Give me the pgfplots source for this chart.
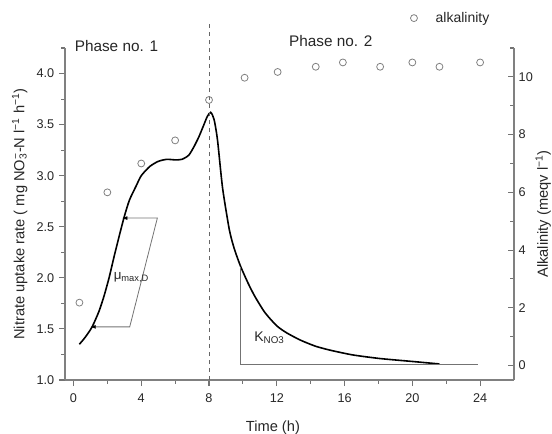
\documentclass[border=0pt]{standalone}
\usepackage{fontspec}
\setmainfont{Liberation Sans}
\usepackage{pgfplots}
\pgfplotsset{compat=1.18}
\usetikzlibrary{arrows.meta}
\begin{document}
\begin{tikzpicture}
\pgfplotsset{
  common/.style={
    width=336.75pt, height=249pt, scale only axis,
    xmin=-0.5, xmax=26,
    axis line style={line width=1pt, color=black!50},
    every tick/.style={black!55, line width=0.8pt},
    major tick length=4.5pt, minor tick length=2.8pt,
    tick label style={font=\fontsize{9.5}{10}\selectfont, color=black!85},
    label style={font=\fontsize{11}{13}\selectfont, color=black!85},
    /pgf/number format/assume math mode=true,
  }
}
\begin{axis}[common,
  axis x line*=bottom, axis y line*=left,
  ymin=1, ymax=4.25,
  ytick={1,1.5,2,2.5,3,3.5,4},
  minor ytick={1.25,1.75,2.25,2.75,3.25,3.75,4.25},
  yticklabel style={/pgf/number format/.cd, fixed, fixed zerofill, precision=1},
  xtick={0,4,8,12,16,20,24},
  minor xtick={2,6,10,14,18,22},
  xticklabel style={yshift=-2pt},
  tick align=outside,
  clip=false,
  xlabel={Time (h)},
  xlabel style={at={(ticklabel cs:0.463)}, yshift=-7pt},
  ylabel={Nitrate uptake rate ( mg NO\rlap{\textsubscript{3}}\textsuperscript{−}-N l\textsuperscript{−1} h\textsuperscript{−1})},
]
\addplot[black, line width=1.2pt, smooth, tension=0.4] coordinates {
(0.35,1.35) (0.7,1.42) (1.1,1.52) (1.5,1.67) (1.8,1.82) (2.1,2.0) (2.4,2.21)
(2.7,2.41) (3.0,2.6) (3.3,2.76) (3.7,2.9) (4.0,3.0) (4.5,3.09) (5.0,3.14)
(5.5,3.16) (6.0,3.155) (6.4,3.16) (6.8,3.2) (7.1,3.28) (7.4,3.38) (7.7,3.5)
(7.9,3.58) (8.1,3.62) (8.3,3.55) (8.5,3.35) (8.8,2.88) (9.2,2.47) (9.5,2.28)
(9.87,2.11) (10.3,1.95) (10.7,1.82) (11.3,1.66) (12.0,1.53) (12.6,1.46)
(13.4,1.39) (14.3,1.33) (15.2,1.29) (16.5,1.245) (18.1,1.21) (20.1,1.18) (21.6,1.157)
};
\draw[dashed, black!60, line width=0.6pt] (axis cs:8,1) -- (axis cs:8,4.5);
\draw[black!55, line width=0.7pt] (axis cs:9.87,2.11) -- (axis cs:9.87,1.15) -- (axis cs:23.9,1.15);
\draw[black!55, line width=0.6pt, {Latex[length=4pt,width=3pt,black]}-{Latex[length=4pt,width=3pt,black]}]
  (axis cs:2.87,2.585) -- (axis cs:4.95,2.585) -- (axis cs:3.32,1.52) -- (axis cs:1.0,1.52);
\node[anchor=west, font=\fontsize{11.5}{13}\selectfont, text=black!85] at (axis cs:-0.2,4.27) {Phase no. 1};
\node[anchor=west, font=\fontsize{11.5}{13}\selectfont, text=black!85] at (axis cs:12.45,4.32) {Phase no. 2};
\node[anchor=west, font=\fontsize{10}{12}\selectfont, text=black!85] at (axis cs:2.1,2.0) {μ\textsubscript{max,D}};
\node[anchor=west, font=\fontsize{10.5}{12}\selectfont, text=black!85] at (axis cs:10.4,1.41) {K\textsubscript{NO3}};
\end{axis}
\begin{axis}[common,
  axis x line=none, axis y line*=right,
  ymin=-0.5, ymax=11,
  ytick={0,2,4,6,8,10},
  minor ytick={1,3,5,7,9,11},
  tick align=inside,
  ylabel={Alkalinity (meqv l\textsuperscript{−1})},
  ylabel style={at={(axis description cs:1.065,0.5)}, anchor=center, rotate=0},
  legend style={at={(0.76,1.09)}, anchor=west, draw=none, fill=none,
    font=\fontsize{10.5}{12}\selectfont, text=black!85},
  legend image code/.code={\draw[#1] plot coordinates {(0cm,0cm)}; \path[draw=none,fill=none] (0cm,-0.05cm) rectangle (0.5cm,0.05cm);},
]
\addplot[only marks, mark=o, mark size=2.6pt, black!50, mark options={line width=0.6pt}] coordinates {
(0.35,2.18) (2.0,6.0) (4.0,7.0) (6.0,7.8) (8.0,9.2) (10.1,9.97) (12.05,10.17)
(14.3,10.35) (15.9,10.5) (18.1,10.35) (20.0,10.5) (21.6,10.35) (24.0,10.5)
};
\addlegendentry{alkalinity}
\end{axis}
\pgfresetboundingbox
\useasboundingbox (-48.75pt,-39.75pt) rectangle (365.25pt,285pt);
\end{tikzpicture}
\end{document}
